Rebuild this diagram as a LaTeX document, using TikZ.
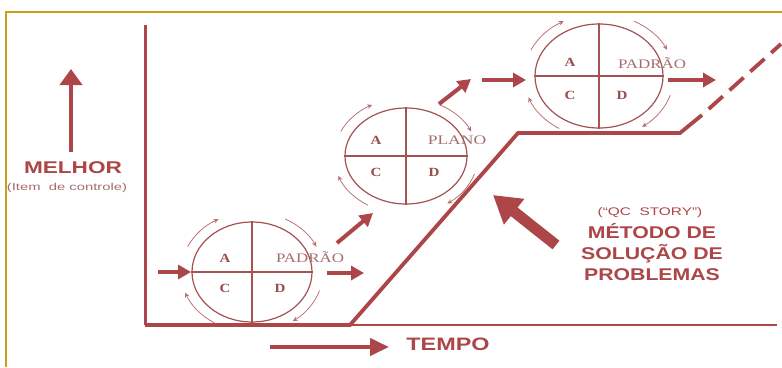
\documentclass[tikz,border=0pt]{standalone}
\usepackage{fontspec}
\setmainfont{Liberation Serif}
\setsansfont{Liberation Sans}
\usetikzlibrary{arrows.meta,shapes.geometric}
\definecolor{mred}{RGB}{172,70,72}
\definecolor{cred}{RGB}{165,82,82}
\definecolor{lred}{RGB}{185,110,110}
\definecolor{goldc}{RGB}{206,158,20}
\definecolor{tred}{RGB}{150,78,78}
\definecolor{pred}{RGB}{165,110,110}
\newcommand\hstr[2]{\scalebox{#1}[1]{#2}}
\begin{document}
\begin{tikzpicture}[x=1pt,y=-1pt,
  pdca/.style={ellipse,draw=cred,line width=1.2pt,inner sep=0pt},
  divider/.style={draw=cred,line width=1.2pt},
  fatarrow/.style={draw=mred,line width=4pt,-{Triangle[length=13pt,width=14pt]}},
  cyc/.style={draw=lred,line width=0.75pt,-{Stealth[length=5pt,width=4.5pt]}},
  letter/.style={font=\bfseries\fontsize{12.5}{12.5}\selectfont,text=tred,inner sep=0pt},
  word/.style={font=\fontsize{13}{13}\selectfont,text=pred,inner sep=0pt},
  big/.style={font=\sffamily\bfseries,text=mred,inner sep=0pt},
  axisline/.style={draw=mred,line cap=butt},
]
\useasboundingbox (0,0) rectangle (782,367);
\fill[white] (0,0) rectangle (782,367);
% gold frame
\draw[goldc,line width=2pt] (6,367) -- (6,12) -- (782,12);

% axes and staircase
\coordinate (ytop) at (145,25);
\coordinate (o) at (145,325);
\coordinate (xend) at (777,325);
\coordinate (s1) at (350,325);
\coordinate (s2) at (518,133);
\coordinate (s3) at (680,133);
\coordinate (s4) at (702,115);
\coordinate (s5) at (781,44);
\draw[axisline,line width=3pt] (ytop) -- (o);
\draw[axisline,line width=2pt] (o) -- (xend);
\draw[axisline,line width=3.8pt,line join=miter] (o) -- (s1) -- (s2) -- (s3) -- (s4);
\draw[axisline,line width=3.8pt,dash pattern=on 19pt off 9pt,dash phase=19pt] (s4) -- (s5);

% PDCA circles
\node[pdca,minimum width=120pt,minimum height=100pt] (c1) at (252,272) {};
\node[pdca,minimum width=122pt,minimum height=96pt] (c2) at (406,156) {};
\node[pdca,minimum width=128pt,minimum height=104pt] (c3) at (599,76) {};
\foreach \c in {c1,c2,c3}{
  \draw[divider] (\c.north) -- (\c.south);
  \draw[divider] (\c.west) -- (\c.east);
}
% cycle arrows (clockwise)
\foreach \c/\rx/\ry in {c1/71/60, c2/72/58, c3/75/62}{
  \foreach \sa/\ea in {-155/-118, -62/-25, 18/55, 122/160}{
    \draw[cyc] ([shift={({\rx*cos(\sa)},{\ry*sin(\sa)})}]\c.center)
      arc[start angle=\sa, end angle=\ea, x radius=\rx, y radius=\ry];
  }
}
% labels in circles
\node[letter] (a1) at (225,258) {\hstr{1.2}{A}};
\node[letter] (cc1) at (225,288) {\hstr{1.2}{C}};
\node[letter] (d1) at (280,288) {\hstr{1.2}{D}};
\node[word] (p1) at (310,257) {\hstr{1.3}{PADRÃO}};
\node[letter] (a2) at (376,140) {\hstr{1.2}{A}};
\node[letter] (cc2) at (376,172) {\hstr{1.2}{C}};
\node[letter] (d2) at (434,172) {\hstr{1.2}{D}};
\node[word] (p2) at (457,140) {\hstr{1.35}{PLANO}};
\node[letter] (a3) at (570,62) {\hstr{1.2}{A}};
\node[letter] (cc3) at (570,95) {\hstr{1.2}{C}};
\node[letter] (d3) at (622,95) {\hstr{1.2}{D}};
\node[word] (p3) at (652,63) {\hstr{1.3}{PADRÃO}};

% thick arrows between circles
\coordinate (in1s) at (158,272);  \coordinate (in1e) at (191,272);
\coordinate (out1s) at (327,273); \coordinate (out1e) at (364,273);
\coordinate (dg1s) at (337,243);  \coordinate (dg1e) at (373,213);
\coordinate (dg2s) at (439,104);  \coordinate (dg2e) at (471,79);
\coordinate (in3s) at (482,80);   \coordinate (in3e) at (526,80);
\coordinate (out3s) at (668,80);  \coordinate (out3e) at (716,80);
\draw[fatarrow] (in1s) -- (in1e);
\draw[fatarrow] (out1s) -- (out1e);
\draw[fatarrow] (dg1s) -- (dg1e);
\draw[fatarrow] (dg2s) -- (dg2e);
\draw[fatarrow] (in3s) -- (in3e);
\draw[fatarrow] (out3s) -- (out3e);

% MELHOR
\coordinate (mels) at (71,152); \coordinate (mele) at (71,69);
\draw[draw=mred,line width=3.8pt,-{Triangle[length=16pt,width=22pt]}] (mels) -- (mele);
\node[big,font=\sffamily\bfseries\fontsize{17}{17}\selectfont] (melhor) at (73,168) {\hstr{1.33}{MELHOR}};
\node[inner sep=0pt,text=pred,font=\sffamily\fontsize{10}{10}\selectfont] (item) at (67,188) {\hstr{1.48}{(Item\ \ de controle)}};

% TEMPO
\coordinate (tps) at (270,347); \coordinate (tpe) at (389,347);
\draw[draw=mred,line width=4pt,-{Triangle[length=19pt,width=17pt]}] (tps) -- (tpe);
\node[big,font=\sffamily\bfseries\fontsize{18}{18}\selectfont] (tempo) at (448,344) {\hstr{1.3}{TEMPO}};

% QC story
\coordinate (qcs) at (556,245); \coordinate (qce) at (493,195);
\draw[draw=mred,line width=11pt,-{Triangle[length=27pt,width=31pt]}] (qcs) -- (qce);
\node[inner sep=0pt,text=mred,font=\sffamily\fontsize{11}{11}\selectfont] (qc) at (650,213) {\hstr{1.4}{(“QC\ \ STORY”)}};
\node[big,font=\sffamily\bfseries\fontsize{17}{21}\selectfont,align=center] (metodo) at (652,252)
  {\hstr{1.25}{MÉTODO DE}\\\hstr{1.25}{SOLUÇÃO DE}\\\hstr{1.25}{PROBLEMAS}};
\end{tikzpicture}
\end{document}
